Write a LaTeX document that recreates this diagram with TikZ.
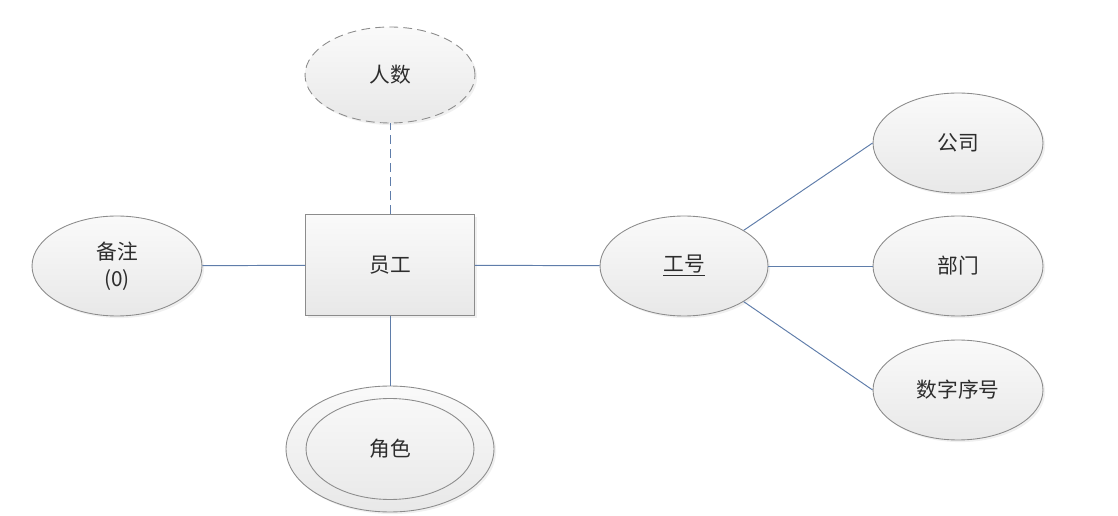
\documentclass[tikz,border=0pt]{standalone}
\usepackage{fontspec}
\newfontfamily\cjk{Noto Sans CJK SC}
\usetikzlibrary{shapes.geometric,shadows}

\definecolor{edgegray}{RGB}{140,140,140}
\definecolor{linkblue}{RGB}{95,125,170}
\definecolor{textgray}{RGB}{45,45,45}

\begin{document}
\begin{tikzpicture}[x=0.02cm, y=-0.02cm,
  every node/.style={font=\cjk\fontsize{11.8}{15.5}\selectfont, text=textgray, align=center},
  shapefill/.style={draw=edgegray, line width=0.5pt, top color=white!98!black, bottom color=white!91!black,
    drop shadow={opacity=0.12, shadow xshift=1.2pt, shadow yshift=-1.2pt}},
  attr/.style={shapefill, ellipse, inner sep=0pt, minimum width=3.4cm, minimum height=2cm},
  entity/.style={shapefill, rectangle, inner sep=0pt, minimum width=3.38cm, minimum height=2.02cm},
  link/.style={draw=linkblue, line width=0.55pt}]

  \useasboundingbox (0,0) rectangle (1118,516);

  % entity
  \node[entity] (staff) at (390,265) {员工};

  % attributes
  \node[attr, dashed, dash pattern=on 5pt off 3pt, minimum height=1.92cm] (count) at (390,75) {人数};
  \node[attr] (note) at (117,266) {备注\\(0)};
  \node[attr, minimum width=4.16cm, minimum height=2.52cm] (roleout) at (390,449) {};
  \node[ellipse, draw=edgegray, line width=0.5pt, inner sep=0pt, minimum width=3.36cm, minimum height=2.02cm] (role) at (390,449) {角色};
  \node[attr, minimum width=3.36cm] (jobno) at (684,266) {\underline{工号}};

  \node[attr] (company) at (958,143) {公司};
  \node[attr] (dept) at (958,266) {部门};
  \node[attr] (serial) at (958,390) {数字序号};

  % connectors
  \draw[link] (note) -- (staff);
  \draw[link] (staff) -- (jobno);
  \draw[link] (staff) -- (roleout);
  \draw[link, dashed, dash pattern=on 5pt off 3pt] (staff) -- (count);
  \draw[link] (jobno.north east) -- (company.west);
  \draw[link] (jobno) -- (dept);
  \draw[link] (jobno.south east) -- (serial.west);

\end{tikzpicture}
\end{document}
